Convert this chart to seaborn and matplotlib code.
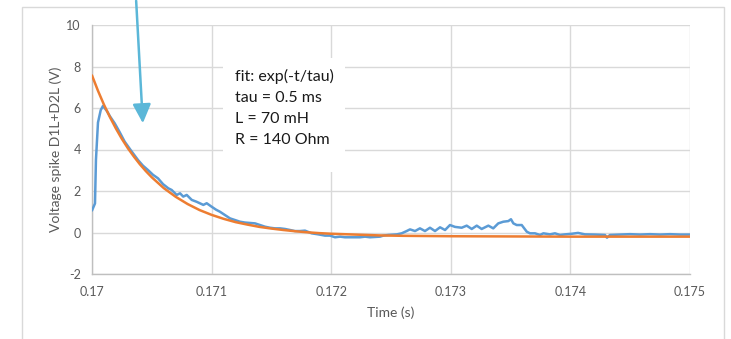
import matplotlib
matplotlib.use("Agg")
import matplotlib.pyplot as plt
from matplotlib.patches import Rectangle, FancyArrowPatch
from matplotlib.ticker import FixedLocator, FixedFormatter
import seaborn as sns
import pandas as pd

# Measured voltage across D1L+D2L after switch-off
meas_time = [
    0.170000, 0.170025, 0.170033, 0.170050, 0.170073, 0.170092, 0.170125, 0.170150,
    0.170190, 0.170230, 0.170273, 0.170326, 0.170385, 0.170426, 0.170468, 0.170510,
    0.170552, 0.170594, 0.170638, 0.170666, 0.170708, 0.170736, 0.170763, 0.170792,
    0.170834, 0.170875, 0.170931, 0.170959, 0.171001, 0.171037, 0.171070, 0.171112,
    0.171154, 0.171196, 0.171237, 0.171279, 0.171321, 0.171363, 0.171405, 0.171446,
    0.171488, 0.171530, 0.171572, 0.171614, 0.171656, 0.171697, 0.171739, 0.171781,
    0.171837, 0.171892, 0.171948, 0.171990, 0.172032, 0.172074, 0.172115, 0.172171,
    0.172241, 0.172283, 0.172324, 0.172408, 0.172436, 0.172477, 0.172548, 0.172589,
    0.172631, 0.172659, 0.172701, 0.172742, 0.172784, 0.172826, 0.172868, 0.172910,
    0.172952, 0.172993, 0.173035, 0.173091, 0.173133, 0.173175, 0.173217, 0.173258,
    0.173314, 0.173355, 0.173397, 0.173439, 0.173481, 0.173503, 0.173523, 0.173551,
    0.173593, 0.173635, 0.173662, 0.173704, 0.173746, 0.173774, 0.173829, 0.173871,
    0.173913, 0.173955, 0.174013, 0.174064, 0.174122, 0.174206, 0.174289, 0.174306,
    0.174331, 0.174415, 0.174498, 0.174582, 0.174666, 0.174749, 0.174833, 0.174916,
    0.175000,
]
meas_volt = [
    1.06, 1.40, 3.50, 5.30, 5.90, 6.10, 5.85, 5.60,
    5.26, 4.85, 4.38, 3.95, 3.49, 3.22, 3.01, 2.78,
    2.61, 2.33, 2.13, 2.05, 1.81, 1.89, 1.73, 1.81,
    1.57, 1.48, 1.33, 1.41, 1.24, 1.10, 1.00, 0.84,
    0.68, 0.60, 0.52, 0.48, 0.46, 0.44, 0.36, 0.28,
    0.23, 0.20, 0.20, 0.17, 0.12, 0.07, 0.07, 0.09,
    -0.04, -0.09, -0.15, -0.15, -0.23, -0.20, -0.23, -0.23,
    -0.23, -0.20, -0.23, -0.20, -0.15, -0.12, -0.09, -0.04,
    0.07, 0.15, 0.07, 0.20, 0.07, 0.23, 0.07, 0.25,
    0.12, 0.36, 0.27, 0.23, 0.33, 0.17, 0.33, 0.17,
    0.33, 0.20, 0.44, 0.52, 0.55, 0.64, 0.44, 0.36,
    0.36, 0.04, -0.04, -0.04, -0.12, -0.04, -0.09, -0.04,
    -0.12, -0.09, -0.06, -0.02, -0.09, -0.10, -0.12, -0.25,
    -0.12, -0.10, -0.08, -0.10, -0.08, -0.10, -0.08, -0.10,
    -0.10,
]

# Exponential fit exp(-t/tau), tau = 0.5 ms
fit_time = [
    0.17000, 0.17005, 0.17010, 0.17015, 0.17020, 0.17025, 0.17030, 0.17035,
    0.17040, 0.17045, 0.17050, 0.17060, 0.17070, 0.17080, 0.17090, 0.17100,
    0.17110, 0.17120, 0.17130, 0.17140, 0.17150, 0.17160, 0.17170, 0.17180,
    0.17190, 0.17200, 0.17220, 0.17240, 0.17260, 0.17280, 0.17300, 0.17350,
    0.17400, 0.17450, 0.17500,
]
fit_volt = [
    7.57, 6.83, 6.16, 5.56, 5.01, 4.51, 4.06, 3.66,
    3.29, 2.96, 2.66, 2.14, 1.72, 1.37, 1.08, 0.85,
    0.66, 0.50, 0.38, 0.27, 0.19, 0.12, 0.06, 0.01,
    -0.03, -0.06, -0.10, -0.14, -0.16, -0.17, -0.18, -0.19,
    -0.20, -0.20, -0.20,
]

x_ticks = [0.170, 0.171, 0.172, 0.173, 0.174, 0.175]
x_tick_labels = ["0.17", "0.171", "0.172", "0.173", "0.174", "0.175"]
y_ticks = [-2, 0, 2, 4, 6, 8, 10]
y_tick_labels = ["-2", "0", "2", "4", "6", "8", "10"]

fit_note = "fit: exp(-t/tau)\ntau = 0.5 ms\nL = 70 mH\nR = 140 Ohm"

sns.set_theme(style="white")
plt.rcParams["font.family"] = ["Lato", "DejaVu Sans"]

W, H = 731, 339
fig = plt.figure(figsize=(W / 100, H / 100), dpi=100)
fig.patch.set_facecolor("white")

# chart-area frame
fig.patches.append(Rectangle((22 / W, -0.2), (724 - 22) / W, 1.2 - 7 / H,
                             transform=fig.transFigure, fill=False,
                             edgecolor="#d9d9d9", linewidth=1.0))

ax = fig.add_axes([92 / W, 1 - 274 / H, (690 - 92) / W, (274 - 25) / H])
ax.set_facecolor("white")

meas = pd.DataFrame({"t": meas_time, "v": meas_volt})
fit = pd.DataFrame({"t": fit_time, "v": fit_volt})
sns.lineplot(data=meas, x="t", y="v", ax=ax, color="#5B9BD5", linewidth=1.8, zorder=3)
sns.lineplot(data=fit, x="t", y="v", ax=ax, color="#ED7D31", linewidth=1.8, zorder=4)

ax.set_xlim(x_ticks[0], x_ticks[-1])
ax.set_ylim(y_ticks[0], y_ticks[-1])
ax.xaxis.set_major_locator(FixedLocator(x_ticks))
ax.xaxis.set_major_formatter(FixedFormatter(x_tick_labels))
ax.yaxis.set_major_locator(FixedLocator(y_ticks))
ax.yaxis.set_major_formatter(FixedFormatter(y_tick_labels))
ax.grid(True, color="#d9d9d9", linewidth=1.0, zorder=0)
ax.set_axisbelow(True)
for side in ["top", "right"]:
    ax.spines[side].set_visible(False)
for side in ["left", "bottom"]:
    ax.spines[side].set_color("#bfbfbf")
    ax.spines[side].set_linewidth(1.0)
ax.tick_params(axis="both", length=0, labelsize=9, labelcolor="#595959")
ax.tick_params(axis="x", pad=9)
ax.tick_params(axis="y", pad=8)

ax.set_xlabel("Time (s)", fontsize=10, color="#595959", labelpad=6)
ax.set_ylabel("Voltage spike D1L+D2L (V)", fontsize=10, color="#595959", labelpad=3)

# annotation box
ax.add_patch(Rectangle(((223 - 92) / 598, (274 - 172) / 249), (345 - 223) / 598, (172 - 58) / 249,
                       transform=ax.transAxes, facecolor="white", edgecolor="none", zorder=5))
ax.text((235 - 92) / 598, (274 - 69) / 249, fit_note, transform=ax.transAxes,
        fontsize=11.5, color="#1a1a1a", va="top", ha="left", linespacing=1.64, zorder=6)

# pointer arrow
arrow = FancyArrowPatch((136 / W, 1 + 2 / H), (143 / W, 1 - 126 / H),
                        transform=fig.transFigure,
                        arrowstyle="-|>,head_length=1.15,head_width=0.55",
                        mutation_scale=10, color="#5BB7D8", linewidth=1.8)
fig.patches.append(arrow)

fig.savefig("out.png", dpi=100)
